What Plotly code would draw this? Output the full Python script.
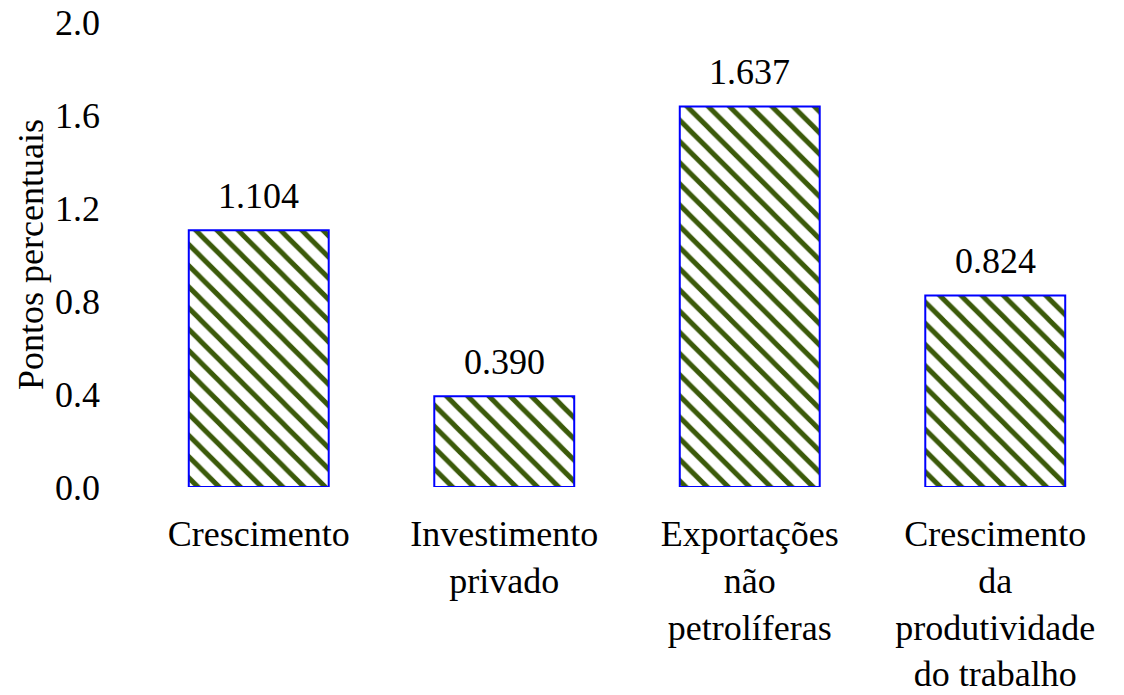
import plotly.graph_objects as go

categories = ["Crescimento", "Investimento<br>privado", "Exportações<br>não<br>petrolíferas",
              "Crescimento<br>da<br>produtividade<br>do trabalho"]
values = [1.104, 0.390, 1.637, 0.824]
labels = ["1.104", "0.390", "1.637", "0.824"]
yticks = [0.0, 0.4, 0.8, 1.2, 1.6, 2.0]
ytick_text = ["0.0", "0.4", "0.8", "1.2", "1.6", "2.0"]

FONT = "Palatino Linotype, Book Antiqua, Palatino, Liberation Serif, serif"
FS = 36

fig = go.Figure(go.Bar(
    x=categories, y=values,
    width=0.57, cliponaxis=False,
    marker=dict(color="white",
                line=dict(color="#0000ff", width=2),
                pattern=dict(shape="\\", fgcolor="#3b5a0a", bgcolor="white",
                             size=15, solidity=0.33, fillmode="replace")),
))

for c, v, t in zip(categories, values, labels):
    fig.add_annotation(x=c, y=v, text=t, showarrow=False, yanchor="bottom",
                       yshift=12, font=dict(size=FS, color="black", family=FONT))

fig.update_layout(
    width=1124, height=695,
    margin=dict(l=136, r=6, t=22, b=208),
    paper_bgcolor="white", plot_bgcolor="white",
    font=dict(family=FONT, size=FS, color="black"),
    showlegend=False,
    xaxis=dict(showgrid=False, showline=False, ticks="", range=[-0.5, 3.5],
               tickfont=dict(size=FS), automargin=False, ticklabelstandoff=22),
    yaxis=dict(range=[0, 2.0], tickvals=yticks, ticktext=ytick_text, showgrid=False,
               zeroline=False, showline=False, ticks="", tickfont=dict(size=FS),
               ticklabelstandoff=35, automargin=False, ticklabeloverflow="allow",
               title=dict(text="Pontos percentuais", standoff=0, font=dict(size=FS))),
)

fig.write_html("out.html", config={"displayModeBar": False},
               post_script="document.body.style.margin='0';")
